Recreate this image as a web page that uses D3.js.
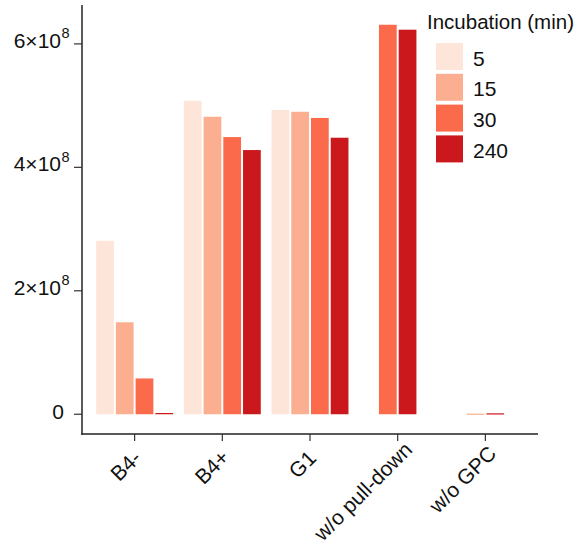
<!DOCTYPE html>
<html>
<head>
<meta charset="utf-8">
<script src="https://cdn.jsdelivr.net/npm/d3@7"></script>
<style>
  body { margin: 0; background: #fff; }
  text { font-family: "Liberation Sans", Arial, sans-serif; }
</style>
</head>
<body>
<svg id="chart"></svg>
<script>
const categories = ["B4-", "B4+", "G1", "w/o pull-down", "w/o GPC"];
const times = ["5", "15", "30", "240"];
// null = no bar for that incubation time
const values = {
  "5":   [2.81e8, 5.08e8, 4.93e8, null,   null],
  "15":  [1.49e8, 4.82e8, 4.90e8, null,   1.0e6],
  "30":  [0.58e8, 4.49e8, 4.80e8, 6.31e8, null],
  "240": [0.02e8, 4.28e8, 4.48e8, 6.23e8, 1.5e6]
};
const colors = ["#fee5d9", "#fcae91", "#fb6a4a", "#cb181d"];
const yTicks = [0, 2e8, 4e8, 6e8];

const WIDTH = 582, HEIGHT = 546;
const MARGIN = { left: 82, right: 44, top: 5, bottom: 112 };

const svg = d3.select("#chart")
  .attr("width", WIDTH)
  .attr("height", HEIGHT);

const x = d3.scaleBand()
  .domain(categories)
  .range([MARGIN.left, WIDTH - MARGIN.right])
  .paddingInner(0)
  .paddingOuter(0.1);

const y = d3.scaleLinear()
  .domain([-0.32e8, 6.63e8])
  .range([HEIGHT - MARGIN.bottom, MARGIN.top]);

const color = d3.scaleOrdinal().domain(times).range(colors);

const groupW = x.bandwidth() * 0.9;
const slot = groupW / times.length;

// bars, dodged and centred per category (only present series take a slot)
const bars = [];
categories.forEach((c, i) => {
  const present = times.filter(t => values[t][i] != null);
  const start = x(c) + x.bandwidth() / 2 - present.length * slot / 2;
  present.forEach((t, j) => {
    bars.push({ cat: c, time: t, value: values[t][i], x0: start + j * slot });
  });
});

svg.append("g")
  .selectAll("rect")
  .data(bars)
  .join("rect")
  .attr("x", d => d.x0 + 1)
  .attr("width", slot - 2)
  .attr("y", d => y(d.value))
  .attr("height", d => Math.max(1.2, y(0) - y(d.value)))
  .attr("fill", d => color(d.time));

// y axis
const yAxis = svg.append("g")
  .attr("transform", `translate(${MARGIN.left},0)`);
yAxis.append("line")
  .attr("y1", MARGIN.top).attr("y2", HEIGHT - MARGIN.bottom + 0.75)
  .attr("stroke", "#222").attr("stroke-width", 1.5);
const yt = yAxis.selectAll(".ytick")
  .data(yTicks)
  .join("g")
  .attr("transform", d => `translate(0,${y(d)})`);
yt.append("line").attr("x1", -8).attr("x2", 0)
  .attr("stroke", "#333").attr("stroke-width", 1.2);
yt.each(function(d) {
  const g = d3.select(this);
  if (d === 0) {
    g.append("text").attr("x", -18).attr("y", 4.5)
      .attr("text-anchor", "end").style("font-size", "21px")
      .attr("fill", "#111").text("0");
    return;
  }
  g.append("text").attr("x", -21).attr("y", 4)
    .attr("text-anchor", "end").style("font-size", "21px")
    .attr("fill", "#111").text(`${d / 1e8}×10`);
  g.append("text").attr("x", -20.5).attr("y", -5.5)
    .style("font-size", "14.5px")
    .attr("fill", "#111").text("8");
});

// x axis
const xAxis = svg.append("g")
  .attr("transform", `translate(0,${HEIGHT - MARGIN.bottom})`);
xAxis.append("line")
  .attr("x1", MARGIN.left - 0.75).attr("x2", WIDTH - MARGIN.right)
  .attr("stroke", "#222").attr("stroke-width", 1.5);
const xt = xAxis.selectAll(".xtick")
  .data(categories)
  .join("g")
  .attr("transform", d => `translate(${x(d) + x.bandwidth() / 2},0)`);
xt.append("line").attr("y1", 0).attr("y2", 7)
  .attr("stroke", "#333").attr("stroke-width", 1.2);
xt.append("text")
  .attr("transform", "translate(5,28) rotate(-45)")
  .attr("text-anchor", "end")
  .style("font-size", "21px")
  .attr("fill", "#111")
  .text(d => d)
  .attr("x", function() { return 0.12 * this.getComputedTextLength(); });

// legend
const legend = svg.append("g").attr("transform", "translate(427,0)");
legend.append("text")
  .attr("x", 0).attr("y", 29)
  .style("font-size", "20.5px")
  .attr("fill", "#111")
  .text("Incubation (min)");
const li = legend.selectAll(".item")
  .data(times)
  .join("g")
  .attr("transform", (d, i) => `translate(9,${43 + i * 30.8})`);
li.append("rect")
  .attr("width", 27).attr("height", 27)
  .attr("fill", d => color(d));
li.append("text")
  .attr("x", 37).attr("y", 22.5)
  .style("font-size", "21px")
  .attr("fill", "#111")
  .text(d => d);
</script>
</body>
</html>
